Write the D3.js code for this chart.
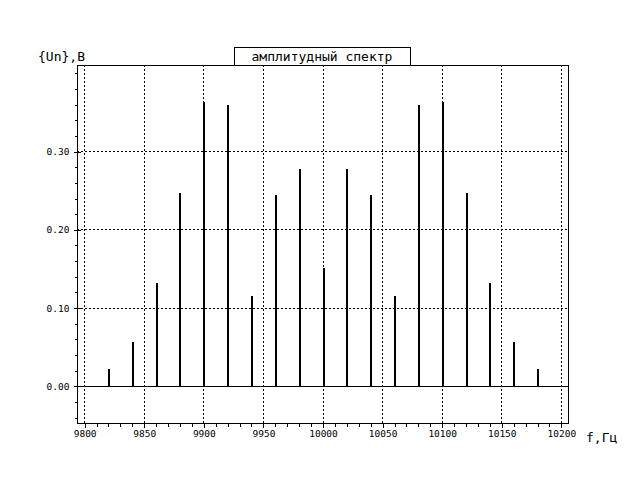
<!DOCTYPE html>
<html>
<head>
<meta charset="utf-8">
<script src="https://cdn.jsdelivr.net/npm/d3@7"></script>
<style>
  html, body { margin: 0; padding: 0; background: #fff; }
  svg { display: block; }
  text { font-family: "DejaVu Sans Mono", "Liberation Mono", monospace; font-size: 9.5px; fill: #000; }
  text.big { font-size: 13px; }
</style>
</head>
<body>
<svg id="chart" width="640" height="480"></svg>
<script>
// Data
const freqs = [9820, 9840, 9860, 9880, 9900, 9920, 9940, 9960, 9980, 10000,
               10020, 10040, 10060, 10080, 10100, 10120, 10140, 10160, 10180];
const amps  = [0.022, 0.056, 0.131, 0.246, 0.363, 0.359, 0.115, 0.244, 0.277, 0.151,
               0.277, 0.244, 0.115, 0.359, 0.363, 0.246, 0.131, 0.056, 0.022];
const xMajorTicks = [9800, 9850, 9900, 9950, 10000, 10050, 10100, 10150, 10200];
const yMajorTicks = [0.00, 0.10, 0.20, 0.30];
const xMinorTicks = d3.range(9800, 10201, 10);
const yMinorTicks = d3.range(-4, 41, 2).map(d => d / 100);
const xDomain = [9794, 10206];
const yDomain = [-0.0475, 0.41];
const titleText = "амплитудный спектр";
const yLabelText = "{Un},B";
const xLabelText = "f,Гц";

const svg = d3.select("#chart");
const L = 77, R = 568, T = 65, B = 423;

const x = d3.scaleLinear().domain(xDomain).range([L, R]);
const y = d3.scaleLinear().domain(yDomain).range([B, T]);
const px = v => Math.round(v) + 0.5;

// grid
const grid = svg.append("g").attr("shape-rendering", "crispEdges");
grid.selectAll("line.vg").data(xMajorTicks).enter().append("line")
  .attr("x1", d => px(x(d))).attr("x2", d => px(x(d)))
  .attr("y1", T).attr("y2", B)
  .attr("stroke", "#000").attr("stroke-width", 1).attr("stroke-dasharray", "2,2");
grid.selectAll("line.hg").data(yMajorTicks.filter(d => d !== 0)).enter().append("line")
  .attr("x1", L).attr("x2", R)
  .attr("y1", d => px(y(d))).attr("y2", d => px(y(d)))
  .attr("stroke", "#000").attr("stroke-width", 1).attr("stroke-dasharray", "2,2");

// zero line
svg.append("line")
  .attr("x1", L).attr("x2", R)
  .attr("y1", px(y(0))).attr("y2", px(y(0)))
  .attr("stroke", "#000").attr("stroke-width", 1).attr("shape-rendering", "crispEdges");

// stems
svg.append("g").attr("shape-rendering", "crispEdges")
  .selectAll("line").data(freqs).enter().append("line")
  .attr("x1", (d) => Math.round(x(d)) + 1).attr("x2", (d) => Math.round(x(d)) + 1)
  .attr("y1", px(y(0))).attr("y2", (d, i) => Math.round(y(amps[i])))
  .attr("stroke", "#000").attr("stroke-width", 2);

// frame
svg.append("rect")
  .attr("x", L + 0.5).attr("y", T + 0.5)
  .attr("width", R - L).attr("height", B - T)
  .attr("fill", "none").attr("stroke", "#000").attr("stroke-width", 1)
  .attr("shape-rendering", "crispEdges");

// minor ticks
const xMinor = svg.append("g").attr("transform", `translate(0.5,${B + 0.5})`)
  .call(d3.axisBottom(x).tickValues(xMinorTicks).tickSize(3).tickFormat(""));
xMinor.select(".domain").remove();
const yMinor = svg.append("g").attr("transform", `translate(${L + 0.5},0.5)`)
  .call(d3.axisLeft(y).tickValues(yMinorTicks).tickSize(3).tickFormat(""));
yMinor.select(".domain").remove();

// major axes
const xAxis = svg.append("g").attr("transform", `translate(0.5,${B + 0.5})`)
  .call(d3.axisBottom(x).tickValues(xMajorTicks).tickSize(4).tickPadding(3).tickFormat(d3.format("d")));
xAxis.select(".domain").remove();
xAxis.selectAll("text").attr("font-family", null).attr("font-size", null);

const yAxis = svg.append("g").attr("transform", `translate(${L + 0.5},0.5)`)
  .call(d3.axisLeft(y).tickValues(yMajorTicks).tickSize(4).tickPadding(4).tickFormat(d3.format(".2f")));
yAxis.select(".domain").remove();
yAxis.selectAll("text").attr("font-family", null).attr("font-size", null);
// inner part of major y ticks (crossing the axis)
yAxis.selectAll(".tick").append("line")
  .attr("x1", 0).attr("x2", 3).attr("stroke", "#000");
svg.selectAll(".tick line").attr("shape-rendering", "crispEdges");

// title box
const titleG = svg.append("g");
titleG.append("rect")
  .attr("x", 234.5).attr("y", 47.5).attr("width", 176).attr("height", T - 47)
  .attr("fill", "#fff").attr("stroke", "#000").attr("stroke-width", 1)
  .attr("shape-rendering", "crispEdges");
titleG.append("text").attr("class", "big").attr("x", 322).attr("y", 61).attr("text-anchor", "middle").text(titleText);

// axis labels
svg.append("text").attr("class", "big").attr("x", 38).attr("y", 61).text(yLabelText);
svg.append("text").attr("class", "big").attr("x", 586).attr("y", 442).text(xLabelText);
</script>
</body>
</html>
